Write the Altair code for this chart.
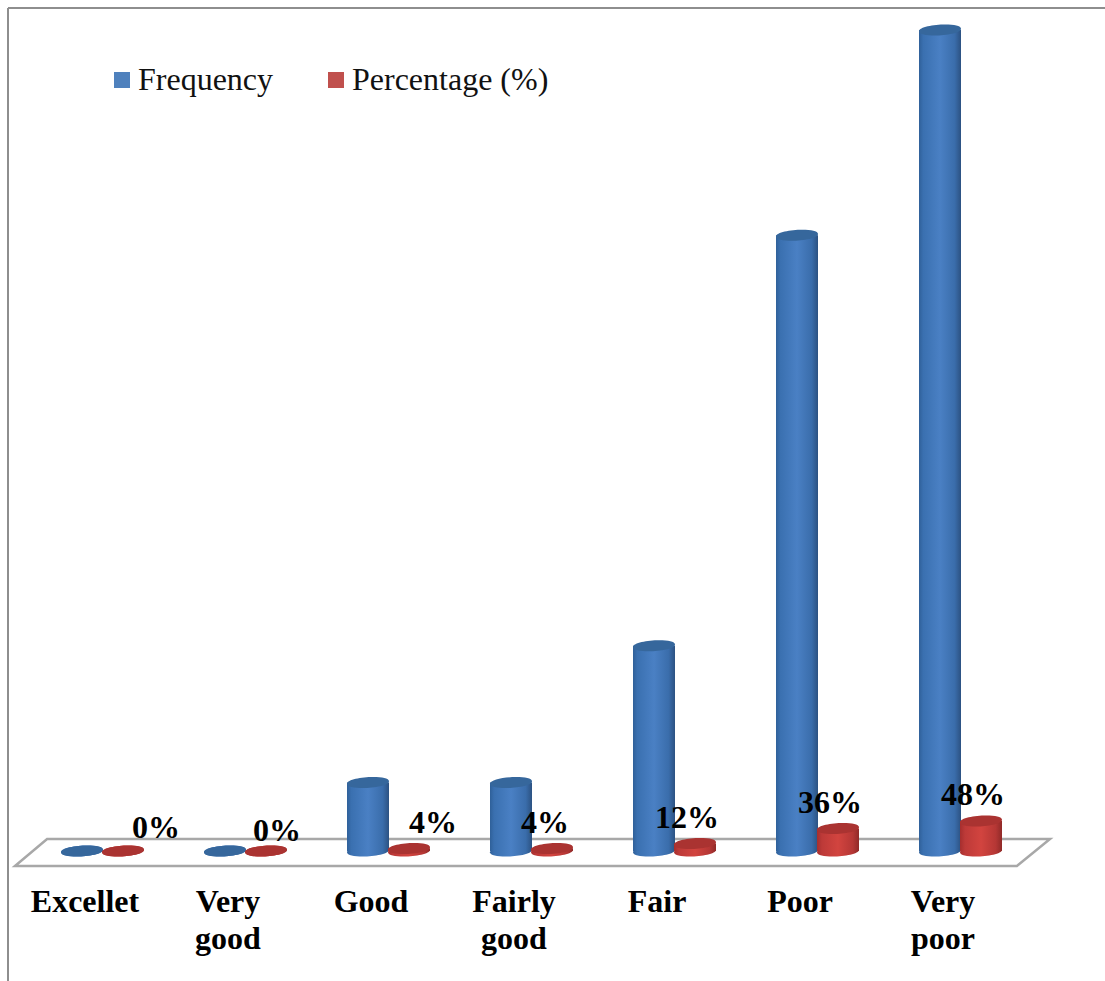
import altair as alt
import pandas as pd

categories = ["Excellet", "Very good", "Good", "Fairly good", "Fair", "Poor", "Very poor"]
axis_labels = ["Excellet", "Very\ngood", "Good", "Fairly\ngood", "Fair", "Poor", "Very\npoor"]
frequency = [0, 0, 2, 2, 6, 18, 24]
percentage = [0, 0, 4, 4, 12, 36, 48]
series_names = ["Frequency", "Percentage (%)"]
series_colors = ["#4f81bd", "#c0504d"]

SERIF = "Liberation Serif"
CYL_W = 42
RED_SHIFT = 41
# slightly tilted ellipse, in the -1..1 box of a custom symbol
DISC = "M-1,.06C-1,-.28,1,-.4,1,-.06C1,.28,-1,.4,-1,.06Z"
FLOOR = "M-1,.0261L-.938,-.0261L1,-.0261L.936,.0261Z"

df = pd.DataFrame({
    "category": categories,
    "axis_label": axis_labels,
    "frequency": frequency,
    "percentage": percentage,
})
df["pct_label"] = df["percentage"].astype(str) + "%"
legend_df = pd.DataFrame({"series": series_names})

x_enc = alt.X("category:N", sort=categories, axis=None,
              scale=alt.Scale(type="point", domain=categories, range=[82, 940], padding=0))
freq_scale = alt.Scale(domain=[0, 24], range=[851, 30])
pct_scale = alt.Scale(domain=[0, 48], range=[851, 821])
y_pct = alt.Y("percentage:Q", axis=None, scale=pct_scale)


def side(stops):
    return alt.Gradient(
        gradient="linear", x1=0, x2=1, y1=0, y2=0,
        stops=[alt.GradientStop(offset=o, color=c) for o, c in stops],
    )


blue_side = side([(0, "#2f6099"), (0.1, "#3a70b0"), (0.5, "#4a80c4"), (0.85, "#3a6dab"), (1, "#2c5282")])
red_side = side([(0, "#a52e2e"), (0.12, "#bd3a38"), (0.5, "#d2443f"), (0.85, "#b53735"), (1, "#902a28")])
blue_top = "#36679c"
red_top = "#aa3331"


def cylinder(field, scale, body, top, shift):
    y_enc = alt.Y(f"{field}:Q", axis=None, scale=scale)
    disc = dict(shape=DISC, size=CYL_W ** 2, filled=True, opacity=1, strokeWidth=0, xOffset=shift)
    foot = alt.Chart(df).transform_calculate(zero="0").mark_point(fill=body, **disc).encode(
        x=x_enc, y=alt.Y("zero:Q", axis=None, scale=scale))
    shaft = alt.Chart(df).mark_bar(width=CYL_W, fill=body, xOffset=shift).encode(x=x_enc, y=y_enc)
    cap = alt.Chart(df).mark_point(fill=top, **disc).encode(x=x_enc, y=y_enc)
    return [foot, shaft, cap]


top_frame = alt.Chart(legend_df.head(1)).mark_rule(color="#8e8e8e", strokeWidth=2).encode(
    x=alt.value(8), x2=alt.value(1105), y=alt.value(8))
left_frame = alt.Chart(legend_df.head(1)).mark_rule(color="#8e8e8e", strokeWidth=2).encode(
    x=alt.value(8), y=alt.value(8), y2=alt.value(981))
floor = alt.Chart(legend_df.head(1)).mark_point(
    shape=FLOOR, size=1035 ** 2, filled=False, stroke="#a8a8a8", strokeWidth=2.5, opacity=1
).encode(x=alt.value(532.5), y=alt.value(852.5))

legend_layer = alt.Chart(legend_df).mark_square(size=0).encode(
    x=alt.value(0), y=alt.value(0),
    color=alt.Color("series:N", sort=series_names,
                    scale=alt.Scale(domain=series_names, range=series_colors),
                    legend=alt.Legend(
                        orient="none", legendX=106, legendY=64, direction="horizontal",
                        title=None, symbolType="square", symbolSize=256, symbolStrokeWidth=0,
                        labelFont=SERIF, labelFontSize=32, labelColor="#111111",
                        labelOffset=0, columnPadding=46, padding=0, labelLimit=300,
                        symbolOpacity=1)),
)

cat_text = alt.Chart(df).mark_text(
    font=SERIF, fontWeight="bold", fontSize=32, color="black", lineBreak="\n", lineHeight=37,
    align="center", baseline="alphabetic", dx=3
).encode(x=x_enc, y=alt.value(912), text="axis_label:N")

# the value labels sit by hand around the red cylinders
nudges = {
    "Excellet": (74, -13), "Very good": (52, -10), "Good": (65, -16), "Fairly good": (34, -16),
    "Fair": (33, -16), "Poor": (33, -16), "Very poor": (33, -16),
}
value_text = [
    alt.Chart(df).transform_filter(alt.datum.category == c).mark_text(
        font=SERIF, fontWeight="bold", fontSize=32, color="black", align="center",
        baseline="alphabetic", dx=dx, dy=dy
    ).encode(x=x_enc, y=y_pct, text="pct_label:N")
    for c, (dx, dy) in nudges.items()
]

layers = [top_frame, left_frame, floor, legend_layer]
layers += cylinder("frequency", freq_scale, blue_side, blue_top, 0)
layers += cylinder("percentage", pct_scale, red_side, red_top, RED_SHIFT)
layers += [cat_text] + value_text

chart = alt.layer(*layers).resolve_scale(y="independent").properties(
    width=1105, height=981, padding=0, autosize="none", background="white"
).configure_view(stroke=None)

chart.save("out.html", embed_options={"renderer": "svg", "actions": False})
